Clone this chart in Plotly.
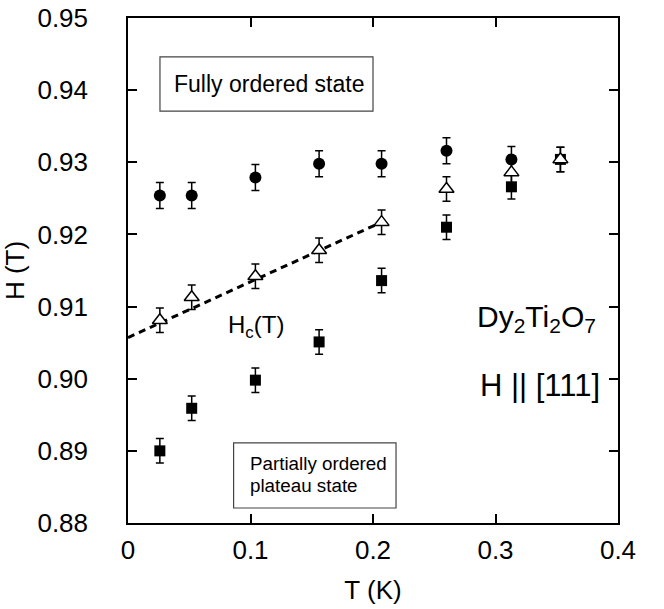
import plotly.graph_objects as go

# Data
T_circ = [0.026, 0.052, 0.104, 0.156, 0.207, 0.260, 0.313]
H_circ = [0.9254, 0.9254, 0.9279, 0.9298, 0.9298, 0.9316, 0.9304]
E_circ = [0.0018] * 7

T_tri = [0.026, 0.052, 0.104, 0.156, 0.207, 0.260, 0.313, 0.353]
H_tri = [0.9081, 0.9113, 0.9142, 0.9178, 0.9217, 0.9263, 0.9286, 0.9304]
E_tri = [0.0017] * 8

T_sq = [0.026, 0.052, 0.104, 0.156, 0.207, 0.260, 0.313, 0.353]
H_sq = [0.8900, 0.8959, 0.8998, 0.9051, 0.9136, 0.9210, 0.9266, 0.9304]
E_sq = [0.0017] * 8

T_fit = [0.0, 0.207]
H_fit = [0.9057, 0.9217]

x_ticks = [0, 0.1, 0.2, 0.3, 0.4]
x_ticktext = ["0", "0.1", "0.2", "0.3", "0.4"]
y_ticks = [0.88, 0.89, 0.90, 0.91, 0.92, 0.93, 0.94, 0.95]
y_ticktext = ["0.88", "0.89", "0.90", "0.91", "0.92", "0.93", "0.94", "0.95"]

FONT = "Liberation Sans, Arial, Helvetica, sans-serif"
BLACK = "black"

fig = go.Figure()


def err(e):
    return dict(type="data", array=e, visible=True, color=BLACK, thickness=1.5, width=4)


fig.add_trace(go.Scatter(x=T_fit, y=H_fit, mode="lines",
                         line=dict(color=BLACK, width=3, dash="7px,5px"),
                         showlegend=False, hoverinfo="skip"))
fig.add_trace(go.Scatter(x=T_sq, y=H_sq, mode="markers", error_y=err(E_sq),
                         marker=dict(symbol="square", size=11, color=BLACK),
                         showlegend=False))
fig.add_trace(go.Scatter(x=T_circ, y=H_circ, mode="markers", error_y=err(E_circ),
                         marker=dict(symbol="circle", size=12, color=BLACK),
                         showlegend=False))
fig.add_trace(go.Scatter(x=T_tri, y=H_tri, mode="markers", error_y=err(E_tri),
                         marker=dict(symbol="triangle-up", size=13, color="white",
                                     line=dict(width=1.5, color=BLACK)),
                         showlegend=False))

# boxes
fig.add_shape(type="rect", xref="x", yref="y", x0=0.0261, x1=0.2000, y0=0.9371, y1=0.9446,
              line=dict(color="#444", width=1.2), fillcolor="white", layer="below")
fig.add_shape(type="rect", xref="x", yref="y", x0=0.0862, x1=0.2188, y0=0.88208, y1=0.89111,
              line=dict(color="#444", width=1.2), fillcolor="white", layer="below")

fig.add_annotation(x=0.1147, y=0.9408, xref="x", yref="y", text="Fully ordered state",
                   showarrow=False, font=dict(family=FONT, size=23, color=BLACK))
fig.add_annotation(x=0.0980, y=0.88822, xref="x", yref="y", text="Partially ordered",
                   xanchor="left", showarrow=False, font=dict(family=FONT, size=18.8, color=BLACK))
fig.add_annotation(x=0.0980, y=0.88516, xref="x", yref="y", text="plateau state",
                   xanchor="left", showarrow=False, font=dict(family=FONT, size=18.8, color=BLACK))
fig.add_annotation(x=0.0800, y=0.9073, xref="x", yref="y", text="H<sub>c</sub>(T)",
                   xanchor="left", showarrow=False, font=dict(family=FONT, size=24, color=BLACK))
fig.add_annotation(x=0.2830, y=0.9083, xref="x", yref="y",
                   text="Dy<sub>2</sub>Ti<sub>2</sub>O<sub>7</sub>",
                   xanchor="left", showarrow=False, font=dict(family=FONT, size=30, color=BLACK))
fig.add_annotation(x=0.2855, y=0.8990, xref="x", yref="y", text="H || [111]",
                   xanchor="left", showarrow=False, font=dict(family=FONT, size=31, color=BLACK))

axis_common = dict(showline=True, linecolor=BLACK, linewidth=1.5, mirror="ticks",
                   ticks="inside", ticklen=9, tickwidth=1.5, tickcolor=BLACK,
                   showgrid=False, zeroline=False, ticklabeloverflow="allow", automargin=False,
                   tickfont=dict(family=FONT, size=26, color=BLACK))

fig.update_xaxes(range=[0, 0.4], tickvals=x_ticks, ticktext=x_ticktext, ticklabelstandoff=3,
                 title=dict(text="T (K)", font=dict(family=FONT, size=26, color=BLACK), standoff=17),
                 **axis_common)
fig.update_yaxes(range=[0.88, 0.95], tickvals=y_ticks, ticktext=y_ticktext, ticklabelstandoff=33,
                 title=dict(text="H (T)", font=dict(family=FONT, size=26, color=BLACK), standoff=6),
                 **axis_common)

fig.update_layout(width=664, height=609, margin=dict(l=128, r=46, t=18, b=86),
                  paper_bgcolor="white", plot_bgcolor="white", showlegend=False)

fig.write_html("out.html", config={"displayModeBar": False},
               post_script="document.body.style.margin='0';")
